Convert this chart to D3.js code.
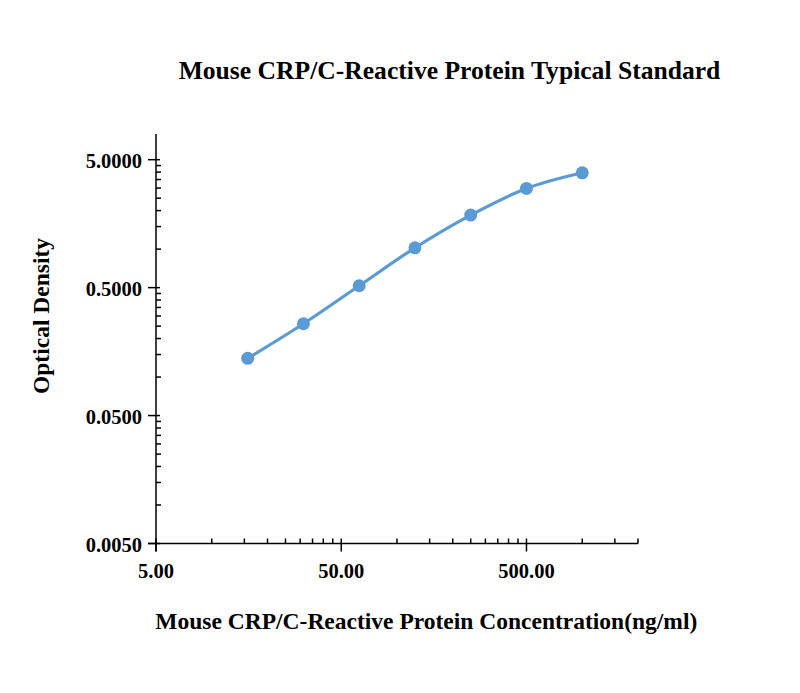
<!DOCTYPE html>
<html>
<head>
<meta charset="utf-8">
<script src="https://d3js.org/d3.v7.min.js"></script>
<style>
  body { margin: 0; background: #fff; }
  text { font-family: "Liberation Serif", "Times New Roman", serif; font-weight: bold; fill: #000; }
</style>
</head>
<body>
<script>
// standard curve readings
var concentration = [15.625, 31.25, 62.5, 125, 250, 500, 1000];
var density = [0.140, 0.261, 0.517, 1.024, 1.844, 2.98, 3.95];
var xMajor = [5, 50, 500];
var yMajor = [0.005, 0.05, 0.5, 5];

var width = 800, height = 693;
var svg = d3.select("body").append("svg")
    .attr("width", width)
    .attr("height", height);

var x = d3.scaleLog().domain([5, 2000]).range([156, 638]);
var y = d3.scaleLog().domain([0.005, 7.94]).range([543.5, 134]);

// minor ticks, k * start of each decade
function minors(scale, start) {
  var out = [], d = scale.domain();
  for (var base = start; base < d[1]; base *= 10) {
    for (var k = 2; k <= 9; k++) {
      var v = base * k;
      if (v <= d[1] * 1.0001) out.push(v);
    }
  }
  return out;
}

var axes = svg.append("g").attr("stroke", "#000").attr("stroke-width", 1.5);

// y axis line
axes.append("line").attr("x1", x(5)).attr("x2", x(5)).attr("y1", y.range()[1]).attr("y2", y(0.005) + 8);
// x axis line
axes.append("line").attr("x1", x(5) - 8).attr("x2", x(2000)).attr("y1", y(0.005)).attr("y2", y(0.005));

axes.selectAll(".ymaj").data(yMajor).enter().append("line")
    .attr("x1", x(5) - 8).attr("x2", x(5) + 4)
    .attr("y1", function (d) { return y(d); }).attr("y2", function (d) { return y(d); });
axes.selectAll(".ymin").data(minors(y, 0.005)).enter().append("line")
    .attr("x1", x(5)).attr("x2", x(5) + 5)
    .attr("y1", function (d) { return y(d); }).attr("y2", function (d) { return y(d); });

axes.selectAll(".xmaj").data(xMajor).enter().append("line")
    .attr("x1", function (d) { return x(d); }).attr("x2", function (d) { return x(d); })
    .attr("y1", y(0.005) - 5).attr("y2", y(0.005) + 8);
axes.selectAll(".xmin").data(minors(x, 5)).enter().append("line")
    .attr("x1", function (d) { return x(d); }).attr("x2", function (d) { return x(d); })
    .attr("y1", y(0.005) - 5).attr("y2", y(0.005));

svg.selectAll(".ylab").data(yMajor).enter().append("text")
    .attr("x", 142).attr("y", function (d) { return y(d) + 8; })
    .attr("text-anchor", "end").style("font-size", "20.5px")
    .text(d3.format(".4f"));
svg.selectAll(".xlab").data(xMajor).enter().append("text")
    .attr("x", function (d) { return x(d); }).attr("y", 578)
    .attr("text-anchor", "middle").style("font-size", "20.5px")
    .text(d3.format(".2f"));

// curve and points
var pts = concentration.map(function (c, i) { return [x(c), y(density[i])]; });
svg.append("path")
    .attr("d", d3.line().curve(d3.curveCatmullRom)(pts))
    .attr("fill", "none").attr("stroke", "#5b9bd5").attr("stroke-width", 3.2);
svg.selectAll("circle").data(pts).enter().append("circle")
    .attr("cx", function (d) { return d[0]; }).attr("cy", function (d) { return d[1]; })
    .attr("r", 6.5).attr("fill", "#5b9bd5");

svg.append("text").attr("x", 449.5).attr("y", 79).attr("text-anchor", "middle")
    .style("font-size", "25.6px").text("Mouse CRP/C-Reactive Protein Typical Standard");
svg.append("text").attr("x", 426.3).attr("y", 629).attr("text-anchor", "middle")
    .style("font-size", "23.5px").text("Mouse CRP/C-Reactive Protein Concentration(ng/ml)");
svg.append("text").attr("transform", "translate(49,316) rotate(-90)").attr("text-anchor", "middle")
    .style("font-size", "23.5px").text("Optical Density");
</script>
</body>
</html>
